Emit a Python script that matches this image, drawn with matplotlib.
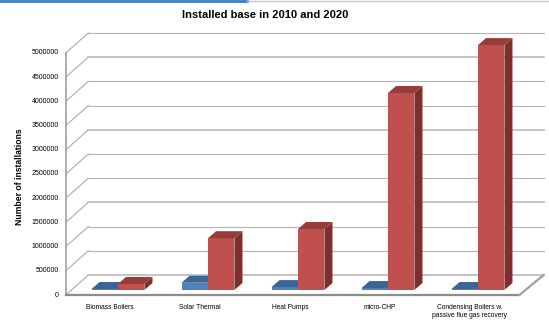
import matplotlib.pyplot as plt
from matplotlib.patches import Polygon
from matplotlib.lines import Line2D
import numpy as np

# DATA
categories = ['Biomass Boilers', 'Solar Thermal', 'Heat Pumps', 'micro-CHP',
              'Condensing Boilers w.\npassive flue gas recovery']
base_2010 = [20000, 150000, 60000, 40000, 20000]
base_2020 = [125000, 1070000, 1260000, 4070000, 5060000]
yticks = [0, 500000, 1000000, 1500000, 2000000, 2500000,
          3000000, 3500000, 4000000, 4500000, 5000000]

# fake 3D geometry (category units / value units)
bar_w = 0.294
bar_dx, bar_dy = 0.089, 145000      # depth of a single column
bar_base = 103000                   # columns stand a bit behind the front edge
wall_dx, wall_dy = 0.25, 413000     # depth of the chart floor
x_left, x_right = -0.58, 4.46

c_blue = ('#4F81BD', '#3A6596', '#2F5380')
c_red = ('#C0504D', '#963C3A', '#7D2F2D')
grid_c = '#B4B4B4'

plt.rcParams['font.family'] = ['Liberation Sans', 'DejaVu Sans']

fig = plt.figure(figsize=(5.49, 3.21), dpi=100)
ax = fig.add_axes([0, 0, 1, 1])
ax.set_xlim(-1.311, 4.789)
ax.set_ylim(-537190, 6095041)
ax.axis('off')

# back wall gridlines + left wall diagonals
for k, v in enumerate(yticks):
    lw = 1.1 if k % 3 == 0 else 0.8
    ax.plot([x_left + wall_dx, x_right + wall_dx + 0.02], [v + wall_dy, v + wall_dy],
            color=grid_c, lw=lw, zorder=1)
    ax.plot([x_left, x_left + wall_dx], [v, v + wall_dy], color=grid_c, lw=0.9, zorder=1)
    ax.text(x_left - 0.075, v, str(v), ha='right', va='center', fontsize=5.0)
ax.plot([x_left, x_left], [0, yticks[-1]], color='#A0A0A0', lw=1.2, zorder=1)

# floor
ax.plot([x_left, x_right], [0, 0], color='#8C8C8C', lw=1.6, zorder=1)
ax.plot([x_right, x_right + wall_dx + 0.02], [0, wall_dy], color='#A0A0A0', lw=1.6, zorder=1)


def column(x0, h, cols):
    y0 = bar_base
    y1 = bar_base + h
    front = Polygon([(x0, y0), (x0 + bar_w, y0), (x0 + bar_w, y1), (x0, y1)],
                    closed=True, fc=cols[0], ec='none', zorder=3)
    top = Polygon([(x0, y1), (x0 + bar_w, y1), (x0 + bar_w + bar_dx, y1 + bar_dy),
                   (x0 + bar_dx, y1 + bar_dy)], closed=True, fc=cols[1], ec='none', zorder=3)
    side = Polygon([(x0 + bar_w, y0), (x0 + bar_w + bar_dx, y0 + bar_dy),
                    (x0 + bar_w + bar_dx, y1 + bar_dy), (x0 + bar_w, y1)],
                   closed=True, fc=cols[2], ec='none', zorder=3)
    for p in (side, front, top):
        ax.add_patch(p)


xs = np.arange(len(categories))
for i in xs:
    column(i - bar_w, base_2010[i], c_blue)
    column(i, base_2020[i], c_red)
    ax.text(i - 0.09, -180000, categories[i], ha='center', va='top',
            fontsize=4.8, linespacing=1.3)

ax.text(-1.09, 2450000, 'Number of installations', rotation=90, ha='center',
        va='center', fontsize=6.2, fontweight='bold')
fig.text(0.483, 0.953, 'Installed base in 2010 and 2020', ha='center', va='center',
         fontsize=8.0, fontweight='bold')

# slide header strip
fig.add_artist(Line2D([0, 0.45], [0.997, 0.997], color='#3D7CC9', lw=2.0))
fig.add_artist(Line2D([0.45, 1], [0.997, 0.997], color='#C8C8C8', lw=1.0))

plt.savefig('out.png', dpi=100)
